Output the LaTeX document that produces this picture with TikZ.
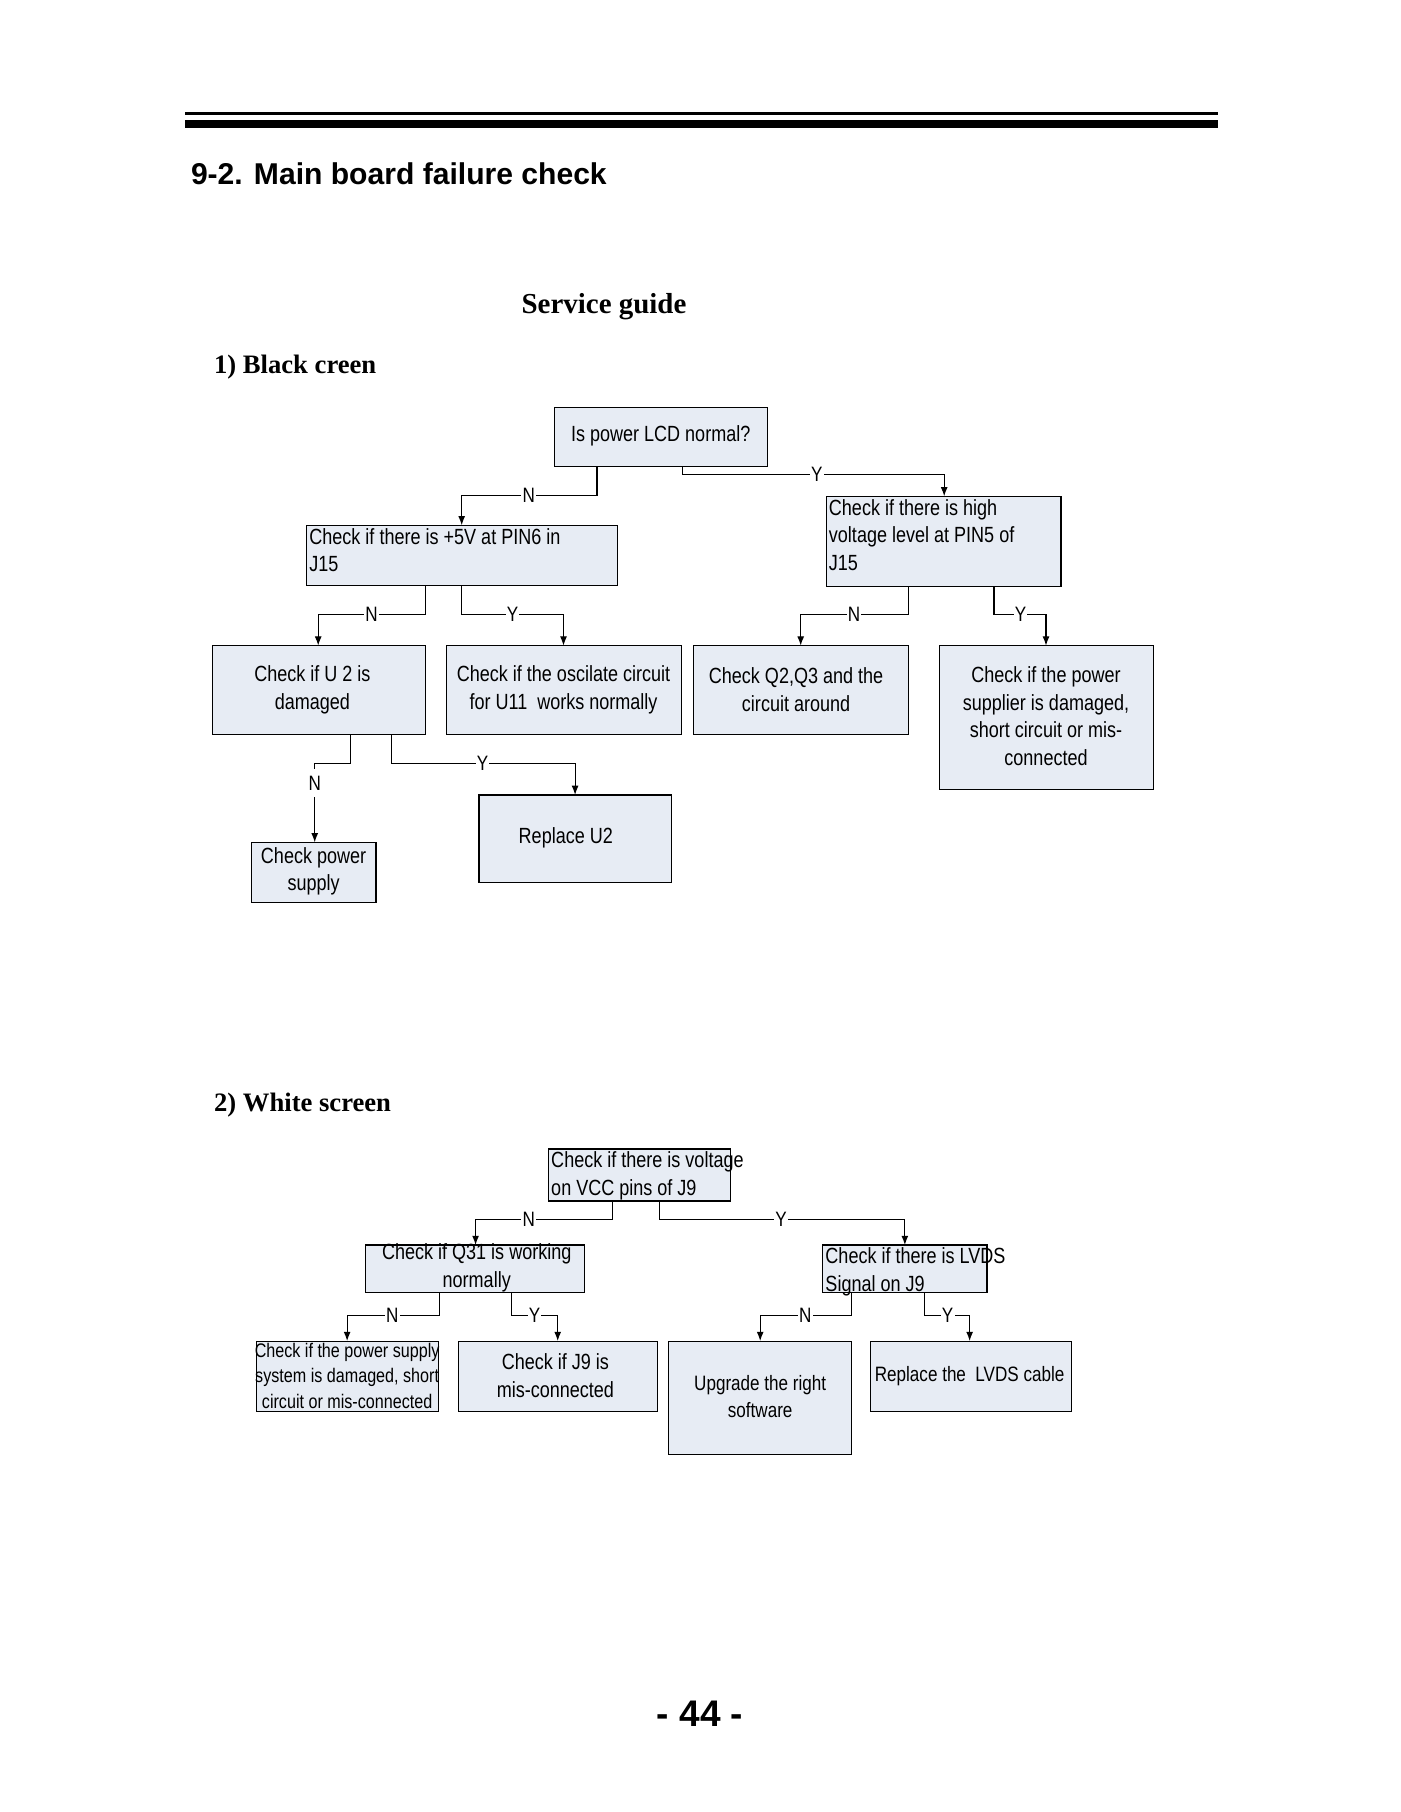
\documentclass[tikz,border=0pt]{standalone}
\usepackage{fontspec}
\setmainfont{Liberation Sans}
\newfontfamily\serifb{Liberation Serif}
\newfontfamily\narrow[FakeStretch=0.82]{Liberation Sans}
\begin{document}
\begin{tikzpicture}[x=0.5pt,y=-0.5pt,
  bx/.style={draw=black,fill=boxfill,line width=0.5pt},
  txt/.style={font=\narrow\fontsize{9.5}{12}\selectfont,align=center},
  lt/.style={font=\narrow\fontsize{9.5}{12}\selectfont,align=left,anchor=north west,inner sep=1pt},
  con/.style={line width=0.5pt},
  arr/.style={line width=0.5pt,-{Latex[length=4pt,width=3pt]}},
  lab/.style={font=\narrow\fontsize{9}{10}\selectfont,fill=white,inner sep=0.5pt}]
\definecolor{boxfill}{HTML}{E7ECF4}
\useasboundingbox (0,0) rectangle (1210,1566);
\usetikzlibrary{arrows.meta}
\draw[line width=1.2pt] (160,98) -- (1053,98);
\fill (160,104) rectangle (1053,111);
\node[anchor=west,font=\bfseries\fontsize{13}{15}\selectfont] (title) at (158,150) {9-2. Main board failure check};
\node[font=\serifb\bfseries\fontsize{12.5}{14}\selectfont] (sg) at (522,265) {Service guide};
\node[anchor=west,font=\serifb\bfseries\fontsize{11.5}{14}\selectfont] (s1) at (178,317) {1) Black creen};
\node[anchor=west,font=\serifb\bfseries\fontsize{11.5}{14}\selectfont] (s2) at (178,955) {2) White screen};
\node[font=\bfseries\fontsize{16}{18}\selectfont] (pg) at (605,1481) {- 44 -};
% section 1 boxes
\draw[bx] (479,352) rectangle (663,403); \node[txt] (a) at (571,377) {Is power LCD normal?};
\draw[bx] (265,454) rectangle (534,506); \node[lt] (b) at (265,454) {Check if there is +5V at PIN6 in\\J15};
\draw[bx] (714,429) rectangle (917,507); \node[lt] (c) at (714,429) {Check if there is high\\voltage level at PIN5 of\\J15};
\draw[bx] (184,558) rectangle (368,635); \node[txt] (d) at (270,596) {Check if U 2 is\\damaged};
\draw[bx] (386,558) rectangle (589,635); \node[txt] (e) at (487,596) {Check if the oscilate circuit\\for U11\ \ works normally};
\draw[bx] (599,558) rectangle (785,635); \node[txt] (f) at (688,596) {Check Q2,Q3 and the\\circuit around};
\draw[bx] (812,558) rectangle (997,682); \node[txt] (g) at (904,619) {Check if the power\\supplier is damaged,\\short circuit or mis-\\connected};
\draw[bx] (217,728) rectangle (325,780); \node[txt] (h) at (271,753) {Check power\\supply};
\draw[bx] (414,687) rectangle (580,763); \node[txt] (i) at (489,724) {Replace U2};
% section 1 connectors
\draw[arr] (516,403) -- (516,428) -- (399,428) -- (399,454); \node[lab] at (457,428) {N};
\draw[arr] (590,403) -- (590,410) -- (816,410) -- (816,429); \node[lab] at (706,410) {Y};
\draw[arr] (368,506) -- (368,531) -- (275,531) -- (275,558); \node[lab] at (321,531) {N};
\draw[arr] (399,506) -- (399,531) -- (487,531) -- (487,558); \node[lab] at (443,531) {Y};
\draw[arr] (785,507) -- (785,531) -- (692,531) -- (692,558); \node[lab] at (738,531) {N};
\draw[arr] (859,507) -- (859,531) -- (904,531) -- (904,558); \node[lab] at (882,531) {Y};
\draw[arr] (303,635) -- (303,660) -- (272,660) -- (272,728); \node[lab,inner ysep=3pt] at (272,677) {N};
\draw[arr] (338,635) -- (338,660) -- (497,660) -- (497,687); \node[lab] at (417,660) {Y};
% section 2 boxes
\draw[bx] (474,993) rectangle (631,1038); \node[lt] (p) at (474,993) {Check if there is voltage\\on VCC pins of J9};
\draw[bx] (316,1076) rectangle (505,1117); \node[txt] (q) at (412,1096) {Check if Q31 is working\\normally};
\draw[bx] (711,1076) rectangle (853,1117); \node[lt] (r) at (711,1076) {Check if there is LVDS\\Signal on J9};
\draw[bx] (222,1159) rectangle (379,1220); \node[txt,font=\narrow\fontsize{8.5}{11}\selectfont] (s) at (300,1189) {Check if the power supply\\system is damaged, short\\circuit or mis-connected};
\draw[bx] (396,1159) rectangle (568,1220); \node[txt] (t) at (480,1189) {Check if J9 is\\mis-connected};
\draw[bx] (578,1159) rectangle (736,1257); \node[txt,font=\narrow\fontsize{9}{12}\selectfont] (u) at (657,1207) {Upgrade the right\\software};
\draw[bx] (752,1159) rectangle (926,1220); \node[txt,font=\narrow\fontsize{9}{12}\selectfont] (v) at (838,1189) {Replace the\ \ LVDS cable};
% section 2 connectors
\draw[arr] (529,1038) -- (529,1054) -- (411,1054) -- (411,1076); \node[lab] at (457,1054) {N};
\draw[arr] (570,1038) -- (570,1054) -- (782,1054) -- (782,1076); \node[lab] at (675,1054) {Y};
\draw[arr] (380,1117) -- (380,1137) -- (300,1137) -- (300,1159); \node[lab] at (339,1137) {N};
\draw[arr] (442,1117) -- (442,1137) -- (482,1137) -- (482,1159); \node[lab] at (462,1137) {Y};
\draw[arr] (736,1117) -- (736,1137) -- (657,1137) -- (657,1159); \node[lab] at (696,1137) {N};
\draw[arr] (799,1117) -- (799,1137) -- (838,1137) -- (838,1159); \node[lab] at (819,1137) {Y};
\end{tikzpicture}
\end{document}
